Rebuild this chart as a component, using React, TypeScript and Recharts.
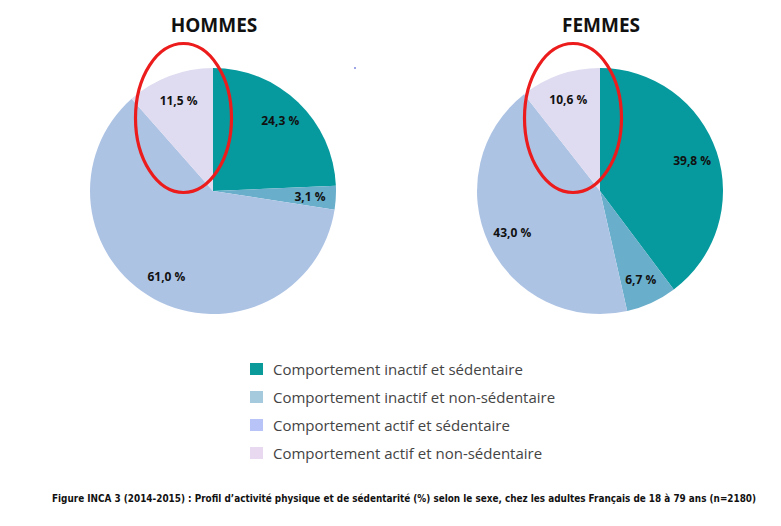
import { useLayoutEffect, useRef, useState } from "react";
import { Pie, PieChart } from "recharts";

const categories = [
  "Comportement inactif et sédentaire",
  "Comportement inactif et non-sédentaire",
  "Comportement actif et sédentaire",
  "Comportement actif et non-sédentaire",
];
const hommes = [24.3, 3.1, 61.0, 11.5];
const femmes = [39.8, 6.7, 43.0, 10.6];
const titles = ["HOMMES", "FEMMES"];

const sliceColors = ["#069a9e", "#69aecb", "#adc3e4", "#dfdbf0"];
const legendColors = ["#0a9a9a", "#a5c9dd", "#b8c4f8", "#e8d8f0"];

const caption =
  "Figure INCA 3 (2014-2015) : Profil d’activité physique et de sédentarité (%) selon le sexe, chez les adultes Français de 18 à 79 ans (n=2180)";

const RADIAN = Math.PI / 180;
const font = "'Open Sans', sans-serif";

function toData(values: number[]) {
  return categories.map((name, i) => ({ name, value: values[i], fill: sliceColors[i] }));
}

function renderLabel(props: any) {
  const { cx, cy, midAngle, outerRadius, value } = props;
  const r = outerRadius * 0.79;
  const x = cx + r * Math.cos(-midAngle * RADIAN);
  const y = cy + r * Math.sin(-midAngle * RADIAN);
  return (
    <text
      x={x}
      y={y}
      textAnchor="middle"
      dominantBaseline="central"
      fontFamily={font}
      fontWeight={700}
      fontSize={12}
      fill="#111"
    >
      {value.toFixed(1).replace(".", ",")} %
    </text>
  );
}

// caption squeezed to the reference width (704px)
function Caption() {
  const ref = useRef<HTMLSpanElement>(null);
  const [k, setK] = useState(0.78);
  useLayoutEffect(() => {
    if (ref.current) {
      const w = ref.current.offsetWidth;
      if (w > 0) setK(704 / w);
    }
  }, []);
  return (
    <div style={{ position: "absolute", left: 52, top: 488, width: 704, height: 14, overflow: "visible" }}>
      <span
        ref={ref}
        style={{
          display: "inline-block",
          whiteSpace: "nowrap",
          fontFamily: "'Liberation Sans Narrow', 'DejaVu Sans Condensed', 'Liberation Sans', sans-serif",
          fontWeight: 700,
          fontSize: 10.5,
          lineHeight: "12px",
          color: "#111",
          transform: `scaleX(${k})`,
          transformOrigin: "0 0",
        }}
      >
        {caption}
      </span>
    </div>
  );
}

export default function App() {
  return (
    <div style={{ position: "absolute", left: 0, top: 0, width: 781, height: 526, background: "#fff", overflow: "hidden" }}>
      <div style={{ position: "absolute", left: 0, top: 0 }}>
        <PieChart width={781} height={526} margin={{ top: 0, right: 0, bottom: 0, left: 0 }}>
          <Pie
            data={toData(hommes)}
            dataKey="value"
            cx={213}
            cy={191}
            outerRadius={123}
            startAngle={90}
            endAngle={-270}
            stroke="none"
            label={renderLabel}
            labelLine={false}
            isAnimationActive={false}
          />
          <Pie
            data={toData(femmes)}
            dataKey="value"
            cx={600}
            cy={191}
            outerRadius={123}
            startAngle={90}
            endAngle={-270}
            stroke="none"
            label={renderLabel}
            labelLine={false}
            isAnimationActive={false}
          />
        </PieChart>
      </div>
      <svg width={781} height={480} style={{ position: "absolute", left: 0, top: 0, pointerEvents: "none" }}>
        <text x={214} y={32} textAnchor="middle" fontFamily={font} fontWeight={700} fontSize={19} fill="#111">
          {titles[0]}
        </text>
        <text x={601} y={32} textAnchor="middle" fontFamily={font} fontWeight={700} fontSize={19} fill="#111">
          {titles[1]}
        </text>
        <ellipse cx={183.5} cy={118} rx={48} ry={74.5} fill="none" stroke="#ec1c1c" strokeWidth={3.2} />
        <ellipse cx={573} cy={118} rx={48.5} ry={74.5} fill="none" stroke="#ec1c1c" strokeWidth={3.2} />
        <circle cx={355} cy={68} r={0.8} fill="#2233cc" />
        {categories.map((c, i) => (
          <g key={c}>
            <rect x={250} y={363 + i * 28} width={13} height={12} fill={legendColors[i]} />
            <text x={273} y={369 + i * 28} dominantBaseline="central" fontFamily={font} fontSize={15} fill="#444">
              {c}
            </text>
          </g>
        ))}
      </svg>
      <Caption />
    </div>
  );
}
